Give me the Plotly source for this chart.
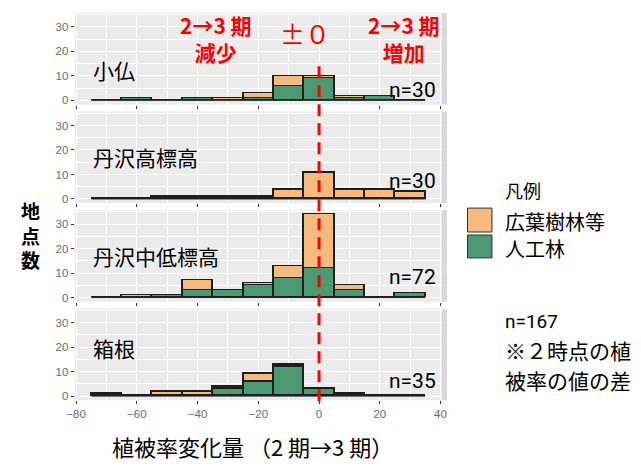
import plotly.graph_objects as go

# Histogram bins of vegetation-cover change (width 10, centred on these values)
bin_centers = [-70, -60, -50, -40, -30, -20, -10, 0, 10, 20, 30]
bin_width = 10

# Counts per bin: 人工林 (planted) and 広葉樹林等 (broadleaf) for each area
kobotoke_planted = [0, 1, 0, 1, 0, 1, 6, 9, 1, 2, 0]
kobotoke_broadleaf = [0, 0, 0, 0, 1, 2, 4, 1, 1, 0, 0]
tanzawa_high_planted = [0, 0, 0, 0, 0, 0, 0, 0, 0, 0, 0]
tanzawa_high_broadleaf = [0, 0, 1, 1, 1, 1, 4, 11, 4, 4, 3]
tanzawa_mid_planted = [0, 0, 1, 3, 3, 5, 8, 12, 3, 0, 2]
tanzawa_mid_broadleaf = [0, 1, 0, 4, 0, 1, 5, 22, 2, 0, 0]
hakone_planted = [1, 0, 0, 0, 3, 6, 12, 3, 1, 0, 0]
hakone_broadleaf = [0, 0, 2, 2, 1, 3, 1, 0, 0, 0, 0]

area_names = ["小仏", "丹沢高標高", "丹沢中低標高", "箱根"]
planted_series = [kobotoke_planted, tanzawa_high_planted, tanzawa_mid_planted, hakone_planted]
broadleaf_series = [kobotoke_broadleaf, tanzawa_high_broadleaf, tanzawa_mid_broadleaf, hakone_broadleaf]

x_ticks = [-80, -60, -40, -20, 0, 20, 40]
y_ticks = [0, 10, 20, 30]

W, H = 641, 466
GREEN = "#4B9A73"
ORANGE = "#F5BA7E"
OUTLINE = "#1E1E1E"
CJK = "Noto Sans CJK JP"
LATIN = "Liberation Sans"
NARROW = "Roboto"


def px(x):
    return x / W


def py(y):
    return 1 - y / H


panel_left, panel_right = 68, 443
panel_tops = [13, 112, 211, 310]
panel_h = 92

n_label_y = [90, 182, 278, 383]
area_label_y = [70, 158, 257, 350]

fig = go.Figure()
layout = dict(
    width=W, height=H,
    margin=dict(l=0, r=0, t=0, b=0),
    paper_bgcolor="white",
    plot_bgcolor="#EBEBEB",
    barmode="stack",
    showlegend=False,
    bargap=0,
)

shapes = []
annotations = []

all_counts = [p + b for ps, bs in zip(planted_series, broadleaf_series) for p, b in zip(ps, bs)]
y_max = max(all_counts)
y_pad = y_max * 0.05
x_lo = bin_centers[0] - bin_width / 2
x_hi = bin_centers[-1] + bin_width / 2
x_pad = (x_hi - x_lo) * 0.05

for i, (name, planted, broad) in enumerate(zip(area_names, planted_series, broadleaf_series)):
    k = i + 1
    xa = "x" if k == 1 else f"x{k}"
    ya = "y" if k == 1 else f"y{k}"
    fig.add_trace(go.Bar(
        x=bin_centers, y=planted, width=bin_width, name="人工林",
        marker=dict(color=GREEN, line=dict(color=OUTLINE, width=1.2)),
        xaxis=xa, yaxis=ya, hoverinfo="x+y",
    ))
    fig.add_trace(go.Bar(
        x=bin_centers, y=broad, width=bin_width, name="広葉樹林等",
        marker=dict(color=ORANGE, line=dict(color=OUTLINE, width=1.2)),
        xaxis=xa, yaxis=ya, hoverinfo="x+y",
    ))

    top = panel_tops[i]
    bottom = top + panel_h
    layout[f"xaxis{k if k > 1 else ''}"] = dict(
        domain=[px(panel_left), px(panel_right)],
        anchor=ya,
        range=[x_lo - x_pad, x_hi + x_pad],
        tickvals=x_ticks,
        showticklabels=(k == 4),
        ticks="outside", ticklen=3, tickwidth=1, tickcolor="#333333",
        tickfont=dict(family=LATIN, size=11.5, color="#6B6B6B"),
        showgrid=True, gridcolor="white", gridwidth=1.1,
        minor=dict(dtick=10, tick0=-70, showgrid=True, gridcolor="white", gridwidth=0.5),
        zeroline=False, showline=False, fixedrange=True,
    )
    layout[f"yaxis{k if k > 1 else ''}"] = dict(
        domain=[py(bottom), py(top)],
        anchor=xa,
        range=[-y_pad, y_max + y_pad],
        tickvals=y_ticks,
        ticks="outside", ticklen=3, tickwidth=1, tickcolor="#333333",
        tickfont=dict(family=LATIN, size=11.5, color="#6B6B6B"),
        showgrid=True, gridcolor="white", gridwidth=1.1,
        minor=dict(dtick=5, tick0=5, showgrid=True, gridcolor="white", gridwidth=0.5),
        zeroline=False, showline=False, fixedrange=True,
    )

    # baseline across the full binned range (empty bins show as a flat edge)
    shapes.append(dict(type="line", xref=xa, yref=ya, x0=x_lo, x1=x_hi, y0=0, y1=0,
                       line=dict(color=OUTLINE, width=1), layer="between"))
    # facet strip sliver on the right
    shapes.append(dict(type="rect", xref="paper", yref="paper",
                       x0=px(443), x1=px(448), y0=py(bottom), y1=py(top),
                       fillcolor="#D9D9D9", line=dict(width=0), layer="below"))

    annotations.append(dict(text=name, x=px(86), y=py(area_label_y[i]), xanchor="left",
                            borderpad=0, font=dict(family=CJK, size=21, color="black")))
    annotations.append(dict(text=f"n={sum(planted) + sum(broad)}", x=px(439), y=py(n_label_y[i]),
                            xanchor="right", font=dict(family=NARROW, size=21, color="black")))

# zero-change reference line
shapes.append(dict(type="line", xref="x4", yref="paper", x0=0, x1=0, y0=py(403), y1=py(60),
                   line=dict(color="#FF0000", width=3, dash="12px,7px"), layer="above"))

red = dict(family=CJK, size=21, color="#FF0000", weight="bold")
annotations += [
    dict(text="2→3 期<br>減少", x=px(212), y=py(38.5), font=red, borderpad=0),
    dict(text="2→3 期<br>増加", x=px(404), y=py(38.5), font=red, borderpad=0),
    dict(text="±０", x=px(303), y=py(33), font=dict(family=CJK, size=25, color="#FF0000")),
]

# y-axis title, stacked one character per line
annotations.append(dict(text="地<br>点<br>数", x=px(23), y=py(236),
                        font=dict(family=CJK, size=19, color="black", weight="bold")))

# x-axis title
annotations.append(dict(text="植被率変化量 （2 期→3 期）", x=px(250), y=py(465), yanchor="bottom",
                        borderpad=0, font=dict(family=CJK, size=22, color="black")))

# legend
annotations.append(dict(text="凡例", x=px(505), y=py(191), xanchor="left",
                        font=dict(family=CJK, size=18, color="black")))
shapes.append(dict(type="rect", xref="paper", yref="paper", x0=px(469), x1=px(494),
                   y0=py(233), y1=py(209), fillcolor=ORANGE, line=dict(color="#333333", width=1)))
shapes.append(dict(type="rect", xref="paper", yref="paper", x0=px(469), x1=px(494),
                   y0=py(259), y1=py(236), fillcolor=GREEN, line=dict(color="#333333", width=1)))
annotations.append(dict(text="広葉樹林等", x=px(505), y=py(222), xanchor="left",
                        font=dict(family=CJK, size=20, color="black")))
annotations.append(dict(text="人工林", x=px(505), y=py(250), xanchor="left",
                        font=dict(family=CJK, size=20, color="black")))

total_n = sum(all_counts)
annotations.append(dict(text=f"n={total_n}", x=px(505), y=py(323), xanchor="left",
                        font=dict(family=NARROW, size=19, color="black")))
annotations.append(dict(text="※２時点の植", x=px(505), y=py(352), xanchor="left",
                        font=dict(family=CJK, size=21, color="black")))
annotations.append(dict(text="被率の値の差", x=px(505), y=py(382), xanchor="left",
                        font=dict(family=CJK, size=21, color="black")))

for a in annotations:
    a.setdefault("xref", "paper")
    a.setdefault("yref", "paper")
    a.setdefault("showarrow", False)
    a.setdefault("xanchor", "center")
    a.setdefault("yanchor", "middle")

layout["shapes"] = shapes
layout["annotations"] = annotations
fig.update_layout(**layout)

fig.write_html("out.html")
